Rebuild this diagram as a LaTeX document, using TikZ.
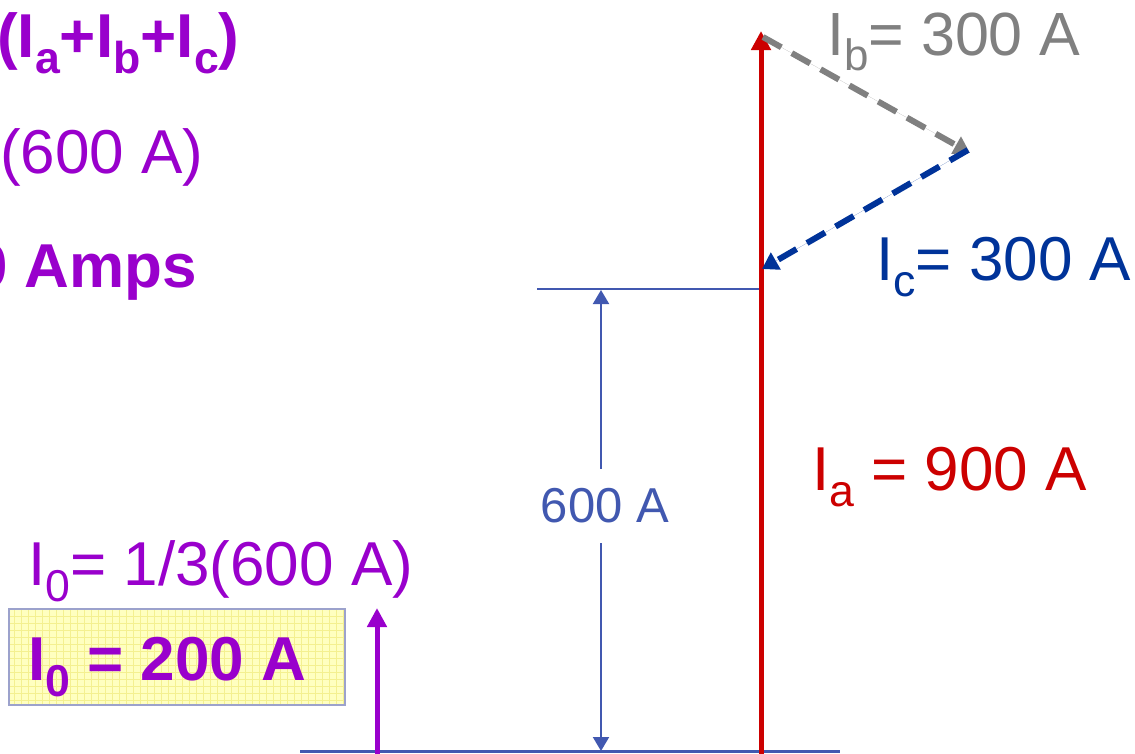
\documentclass[tikz,border=0pt]{standalone}
\usepackage{fontspec}
\setmainfont{Liberation Sans}
\usetikzlibrary{arrows.meta}
\definecolor{purp}{HTML}{9900CC}
\definecolor{redc}{HTML}{CC0000}
\definecolor{grayc}{HTML}{808080}
\definecolor{darkblue}{HTML}{003399}
\definecolor{dimblue}{HTML}{4158B0}
\definecolor{boxfill}{HTML}{FFFFC0}
\definecolor{gridc}{HTML}{F4F090}
\definecolor{boxline}{HTML}{9CA2CC}
\newcommand\lsub[1]{\raisebox{-0.26em}{\scalebox{0.72}{#1}}}
\newcommand\fs[1]{\fontsize{#1}{#1}\selectfont}
\tikzset{
  txt/.style={anchor=base west, inner sep=0pt},
  bigarrow/.style={line width=5pt, -{Triangle[width=19pt,length=19pt]}},
  dasharrow/.style={line width=6pt, dash pattern=on 21pt off 12pt, -{Triangle[width=19pt,length=16pt]}},
  dimline/.style={draw=dimblue, line width=2.5pt},
  dimarrow/.style={dimblue, line width=2pt, {Triangle[width=16pt,length=14pt]}-{Triangle[width=16pt,length=14pt]}},
}
\begin{document}
\begin{tikzpicture}[x=1pt,y=-1pt]
\useasboundingbox (0,0) rectangle (1135,753);
% left texts
\node[txt, text=purp] (t1) at (-3,57) {\fs{62}\bfseries (I\lsub{a}+I\lsub{b}+I\lsub{c})};
\node[txt, text=purp] (t2) at (0,173) {\fs{62}(600 A)};
\node[txt, text=purp] (t3) at (-27,287) {\fs{62}\bfseries 0 Amps};
\node[txt, text=purp] (t4) at (28,585) {\fs{62}I\lsub{0}= 1/3(600 A)};
% yellow box
\fill[boxfill] (9,609) rectangle (345,705);
\begin{scope}
\clip (9,609) rectangle (345,705);
\draw[gridc, line width=0.8pt, step=7pt] (9,609) grid (345,705);
\end{scope}
\draw[boxline, line width=1.5pt] (9,609) rectangle (345,705);
\node[txt, text=purp] (t5) at (28,680) {\fs{62}\bfseries I\lsub{0} = 200 A};
% coordinates
\coordinate (redbot) at (761,755);
\coordinate (redtop) at (761,31);
\coordinate (bstart) at (763,37);
\coordinate (bend) at (970,153);
\coordinate (cstart) at (968,150);
\coordinate (cend) at (762,269);
\coordinate (hl1) at (537,289);
\coordinate (hl2) at (761,289);
\coordinate (bl1) at (300,751.5);
\coordinate (bl2) at (840,751.5);
\coordinate (dtop) at (601,290);
\coordinate (dbot) at (601,751);
\coordinate (pbot) at (377,755);
\coordinate (ptop) at (377,608);
% lines
\draw[dimline] (hl1) -- (hl2);
\draw[dimline] (bl1) -- (bl2);
\draw[dimarrow] (dtop) -- (dbot);
\node[fill=white, inner xsep=2pt, inner ysep=20pt, text=dimblue] (dl) at (605,506) {\fs{49}600 A};
\draw[bigarrow, draw=redc, fill=redc] (redbot) -- (redtop);
\draw[bigarrow, draw=purp, fill=purp] (pbot) -- (ptop);
\draw[dasharrow, draw=grayc, fill=grayc] (bstart) -- (bend);
\draw[dasharrow, draw=darkblue, fill=darkblue] (cstart) -- (cend);
% right labels
\node[txt, text=grayc] (lb) at (827,55) {\fs{61}I\lsub{b}= 300 A};
\node[txt, text=darkblue] (lc) at (876,280) {\fs{62}I\lsub{c}= 300 A};
\node[txt, text=redc] (la) at (812,490) {\fs{62}I\lsub{a} = 900 A};
\end{tikzpicture}
\end{document}
